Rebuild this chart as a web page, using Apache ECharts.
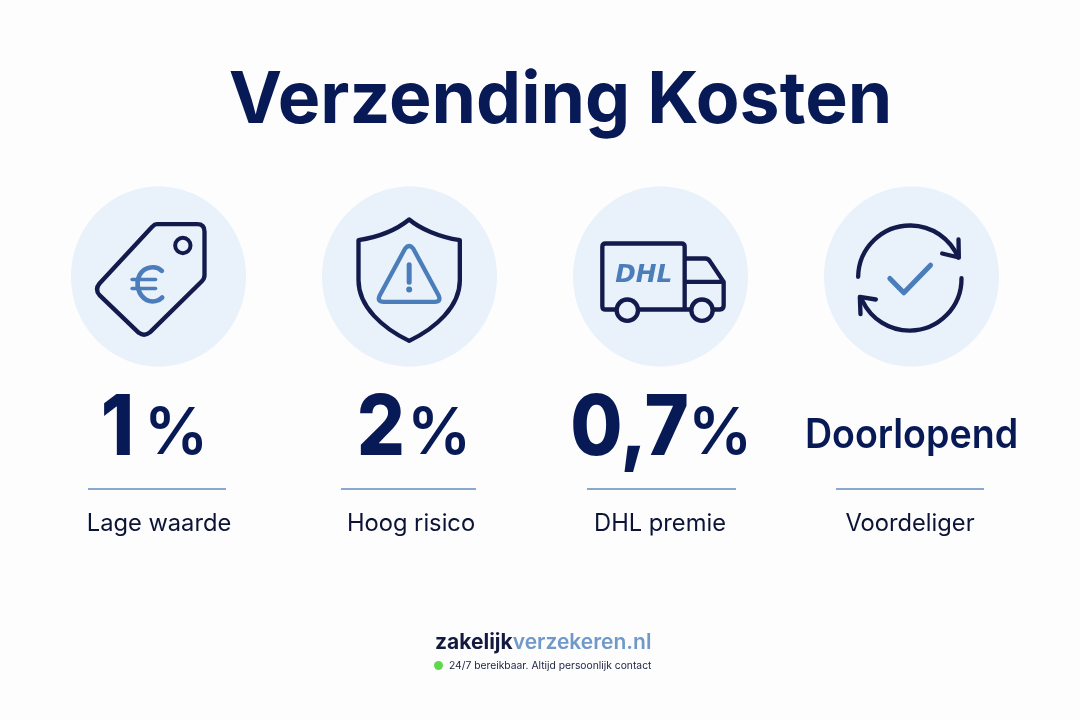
<!DOCTYPE html>
<html><head><meta charset="utf-8">
<style>html,body{margin:0;padding:0;background:#fdfdfe}#c{width:1080px;height:720px}</style>
<script src="https://cdn.jsdelivr.net/npm/echarts@6/dist/echarts.min.js"></script>
</head><body><div id="c"></div>
<script>
const titleText = 'Verzending Kosten';
const categories = ['Lage waarde', 'Hoog risico', 'DHL premie', 'Voordeliger'];
const valueTexts = ['1', '2', '0,7', 'Doorlopend'];
const unitTexts = ['%', '%', '%', ''];
const brandDark = 'zakelijk';
const brandLight = 'verzekeren.nl';
const tagline = '24/7 bereikbaar. Altijd persoonlijk contact';

const NAVY = '#081a56', INK = '#131b4c', BLUE = '#4a7db9', DISC = '#e9f1fb', RULE = '#8aa9d0', LABEL = '#0c1436';
const CY = 276.5;
const colLayout = [
  {rule: [88, 226], digitRight: 134, unitLeft: 144, labelX: 159, zc: 297},
  {rule: [341, 476], digitRight: 405, unitLeft: 407, labelX: 411, zc: 1049},
  {rule: [587, 736], digitRight: 689, unitLeft: 688, labelX: 660, zc: 300.5},
  {rule: [836, 984], labelX: 910, zc: 1055}
];

function P(d, color, lw, fill) {
  const r = echarts.graphic.makePath(d, {}).getBoundingRect();
  return {type: 'path',
    shape: {pathData: d, layout: 'cover', x: r.x, y: r.y, width: r.width, height: r.height},
    style: {stroke: color, lineWidth: lw, fill: fill || 'none', lineJoin: 'round', lineCap: 'round'}};
}
function seg(x1, y1, x2, y2, color, lw) {
  return {type: 'line', shape: {x1, y1, x2, y2}, style: {stroke: color, lineWidth: lw, lineCap: 'round'}};
}
function ring(cx, cy, r, color, lw, fill) {
  return {type: 'circle', shape: {cx, cy, r}, style: {stroke: color || 'none', lineWidth: lw, fill: fill || 'none'}};
}
const icons = [
  () => [
    P('M292 132 L413 132 Q435 132 435 154 L435 285 Q435 295 427 303 L272 456 Q255 470 238 458 L120 345 Q105 328 120 310 L278 140 Q285 132 292 132 Z', INK, 13),
    ring(370, 196, 23, INK, 12),
    P('M307 272 C290 255 255 258 240 285 C228 310 235 345 262 360 C280 368 298 362 308 352', BLUE, 14),
    seg(218, 298, 288, 298, BLUE, 11),
    seg(218, 325, 288, 325, BLUE, 11)
  ],
  () => [
    P('M1048 118 C1015 145 960 170 896 180 L896 300 C896 380 970 445 1048 482 C1126 445 1200 380 1200 300 L1200 180 C1136 170 1080 145 1048 118 Z', INK, 13),
    P('M1036 205 L960 345 Q950 365 972 365 L1125 365 Q1145 365 1136 345 L1060 205 Q1048 190 1036 205 Z', BLUE, 13),
    seg(1048, 254, 1048, 306, BLUE, 15),
    ring(1048, 328, 9, null, 0, BLUE)
  ],
  () => [
    P('M165 388 L136 388 Q126 388 126 378 L126 200 Q126 190 136 190 L363 190 Q373 190 373 200 L373 388 M236 388 L390 388 M373 235 L435 235 Q444 235 450 245 L490 305 L490 376 Q490 388 478 388 L460 388 M378 305 L490 305', INK, 13),
    ring(201, 390, 32, INK, 13, DISC),
    ring(425, 390, 32, INK, 13, DISC),
    {type: 'text', x: 250, y: 288, scaleX: 1.03, style: {text: 'DHL', fill: BLUE, font: 'italic bold 72px "DejaVu Sans"', align: 'center', verticalAlign: 'middle'}}
  ],
  () => [
    P('M895 290 A156 156 0 0 1 1195 232', INK, 13),
    P('M1196 178 L1197 232 L1147 220', INK, 13),
    P('M1205 294 A156 156 0 0 1 908 362', INK, 13),
    P('M902 402 L900 350 L948 358', INK, 13),
    P('M990 295 L1032 338 L1112 255', BLUE, 15)
  ]
];

function renderColumn(params, api) {
  const i = api.value(0);
  const L = colLayout[i];
  const cx = api.coord([i, CY])[0];
  const children = [
    {type: 'ellipse', shape: {cx, cy: CY, rx: 87.5, ry: 90}, style: {fill: DISC}},
    {type: 'group', x: cx - L.zc / 3, y: CY - 289 / 3, scaleX: 1 / 3, scaleY: 1 / 3, children: icons[i]()}
  ];
  if (unitTexts[i]) {
    children.push({type: 'text', x: L.digitRight, y: 429.5, scaleX: 0.9, style: {text: valueTexts[i], fill: NAVY, font: '800 84px Inter', align: 'right', verticalAlign: 'middle'}});
    children.push({type: 'text', x: L.unitLeft, y: 435, style: {text: unitTexts[i], fill: NAVY, font: '600 64px Inter', align: 'left', verticalAlign: 'middle'}});
  } else {
    children.push({type: 'text', x: cx, y: 436, scaleY: 1.08, style: {text: valueTexts[i], fill: NAVY, font: '600 37.6px Inter', align: 'center', verticalAlign: 'middle'}});
  }
  children.push({type: 'line', shape: {x1: L.rule[0], y1: 489, x2: L.rule[1], y2: 489}, style: {stroke: RULE, lineWidth: 1.8}});
  children.push({type: 'text', x: L.labelX, y: 524, style: {text: categories[i], fill: LABEL, font: '400 23.7px Inter', align: 'center', verticalAlign: 'middle'}});
  return {type: 'group', children};
}

const chart = echarts.init(document.getElementById('c'), null, {renderer: 'canvas'});
chart.setOption({
  backgroundColor: '#fdfdfe',
  animation: false,
  title: {text: titleText, left: 555.5, top: 60, textAlign: 'center',
    textStyle: {color: NAVY, fontFamily: 'Inter', fontWeight: 700, fontSize: 71.5}},
  grid: {left: 33, right: 43, top: 0, bottom: 0},
  xAxis: {type: 'category', data: categories, show: false},
  yAxis: {type: 'value', min: 0, max: 720, inverse: true, show: false},
  series: [{type: 'custom', renderItem: renderColumn, data: categories.map((c, i) => [i]), encode: {x: 0}, clip: false, silent: true}],
  graphic: [
    {type: 'text', left: 435, top: 632, style: {
      text: '{a|' + brandDark + '}{b|' + brandLight + '}',
      rich: {a: {fill: '#14193f', font: '700 21px Inter'}, b: {fill: '#7099c9', font: '600 21px Inter'}}}},
    {type: 'circle', shape: {cx: 438.5, cy: 665.5, r: 4.5}, style: {fill: '#5fd94b'}},
    {type: 'text', left: 449, top: 661, style: {text: tagline, fill: '#1c2340', font: '400 10.3px Inter'}}
  ]
});
</script></body></html>
